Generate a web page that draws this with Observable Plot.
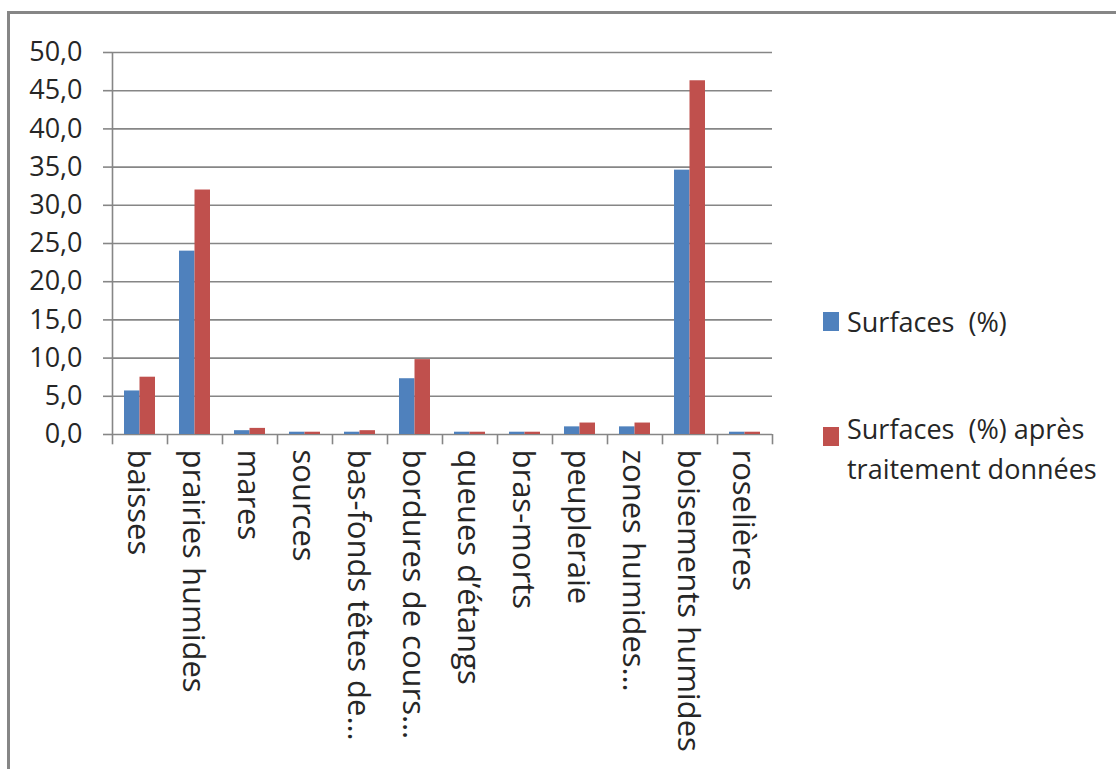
<!DOCTYPE html>
<html>
<head>
<meta charset="utf-8">
<script src="https://cdn.jsdelivr.net/npm/d3@7"></script>
<script src="https://cdn.jsdelivr.net/npm/@observablehq/plot@0.6"></script>
<style>
  html, body { margin: 0; padding: 0; background: #fff; overflow: hidden; }
  #wrap { position: relative; width: 1116px; height: 769px; overflow: hidden; font-family: "Open Sans", sans-serif; }
  #frame { position: absolute; left: 7px; top: 11px; width: 1200px; height: 900px; border-left: 3px solid #868686; border-top: 3px solid #868686; box-sizing: border-box; pointer-events: none; }
  #chart { position: absolute; left: 0; top: 0; }
  .leg { position: absolute; font-size: 27px; color: #262626; white-space: pre; }
  .sw { position: absolute; width: 16px; height: 19px; }
</style>
</head>
<body>
<div id="wrap">
  <div id="chart"></div>
  <div id="frame"></div>
</div>
<script>
const categories = ["baisses", "prairies humides", "mares", "sources", "bas-fonds têtes de…", "bordures de cours…", "queues d’étangs", "bras-morts", "peupleraie", "zones humides…", "boisements humides", "roselières"];
const surfaces = [5.7, 24.0, 0.5, 0.3, 0.3, 7.3, 0.3, 0.3, 1.0, 1.0, 34.6, 0.3];
const surfacesApres = [7.5, 32.0, 0.8, 0.3, 0.5, 9.8, 0.3, 0.3, 1.5, 1.5, 46.3, 0.3];
const yTicks = [0, 5, 10, 15, 20, 25, 30, 35, 40, 45, 50];
const seriesNames = ["Surfaces  (%)", "Surfaces  (%) après\ntraitement données"];
const colors = ["#4F81BD", "#C0504D"];

const W = 1116, H = 769;
const mL = 112, mR = 344, mT = 52, mB = 335;
const bw = (W - mL - mR) / categories.length;
const gray = "#868686";

const blueData = categories.map((c, i) => ({c, v: surfaces[i]}));
const redData = categories.map((c, i) => ({c, v: surfacesApres[i]}));

const chart = Plot.plot({
  width: W, height: H,
  marginLeft: mL, marginRight: mR, marginTop: mT, marginBottom: mB,
  style: {fontFamily: "'Open Sans', sans-serif", background: "transparent"},
  x: {type: "band", domain: categories, padding: 0, axis: null},
  y: {domain: [0, 50], axis: null, label: null},
  marks: [
    Plot.gridY(yTicks, {stroke: gray, strokeOpacity: 1, strokeWidth: 1.6}),
    Plot.axisY(yTicks, {label: null, tickSize: 9, tickPadding: 21, stroke: gray, strokeWidth: 1.6, fill: "#262626", fontSize: 27,
      tickFormat: d => d.toFixed(1).replace(".", ",")}),
    Plot.ruleX([categories[0]], {x: d => d, dx: -bw / 2, y1: 0, y2: 50, stroke: gray, strokeWidth: 1.6}),
    Plot.ruleX(categories, {x: d => d, dx: -bw / 2, y1: 0, y2: -1.35, stroke: gray, strokeWidth: 1.6}),
    Plot.ruleX([categories[categories.length - 1]], {x: d => d, dx: bw / 2, y1: 0, y2: -1.35, stroke: gray, strokeWidth: 1.6}),
    Plot.barY(blueData, {x: "c", y: "v", fill: colors[0], insetLeft: 12, insetRight: bw - 12 - 15.5}),
    Plot.barY(redData, {x: "c", y: "v", fill: colors[1], insetLeft: 12 + 15.5, insetRight: bw - 12 - 31}),
    Plot.text(categories, {x: d => d, y: 0, rotate: 90, textAnchor: "start", dy: 15, dx: -2, fontSize: 31, fill: "#262626"})
  ]
});
document.getElementById("chart").appendChild(chart);

const wrap = document.getElementById("wrap");
const legendItems = [
  {name: seriesNames[0], color: colors[0], swTop: 312, textTop: 304, swLeft: 823, textLeft: 847, lh: 35},
  {name: seriesNames[1], color: colors[1], swTop: 427, textTop: 409, swLeft: 823, textLeft: 847, lh: 40}
];
legendItems.forEach(it => {
  const sw = document.createElement("div");
  sw.className = "sw";
  sw.style.left = it.swLeft + "px";
  sw.style.top = it.swTop + "px";
  sw.style.background = it.color;
  wrap.appendChild(sw);
  const t = document.createElement("div");
  t.className = "leg";
  t.style.left = it.textLeft + "px";
  t.style.top = it.textTop + "px";
  t.style.lineHeight = it.lh + "px";
  t.textContent = it.name;
  wrap.appendChild(t);
});
</script>
</body>
</html>
